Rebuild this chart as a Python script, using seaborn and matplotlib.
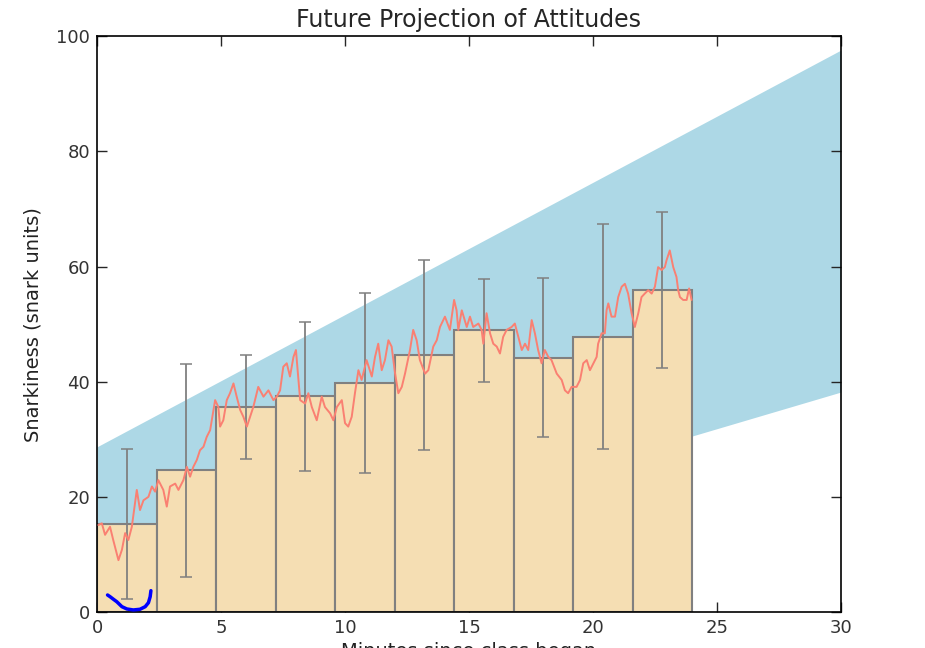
import numpy as np
import pandas as pd
import matplotlib
matplotlib.use("Agg")
import matplotlib.pyplot as plt
import seaborn as sns

# bars (10 bins of width 2.4 from 0 to 24)
bar_centers = [1.2, 3.6, 6.0, 8.4, 10.8, 13.2, 15.6, 18.0, 20.4, 22.8]
bar_heights = [15.3, 24.65, 35.6, 37.45, 39.8, 44.7, 48.9, 44.2, 47.85, 55.9]
bar_errors = [13.0, 18.5, 9.0, 12.9, 15.6, 16.5, 8.95, 13.75, 19.5, 13.5]

# projection band
band_x = [0, 30]
band_low = [0.0, 38.2]
band_high = [28.7, 97.6]

# snark trace
trace_x = [0.05, 0.19, 0.32, 0.52, 0.65, 0.86, 1.00, 1.13, 1.26, 1.40, 1.60, 1.73,
           1.87, 2.07, 2.21, 2.34, 2.47, 2.67, 2.81, 2.94, 3.15, 3.28, 3.48, 3.62,
           3.75, 3.88, 4.02, 4.15, 4.29, 4.42, 4.56, 4.76, 4.89, 4.96, 5.09, 5.23,
           5.36, 5.50, 5.63, 5.77, 5.90, 6.04, 6.30, 6.50, 6.71, 6.91, 7.11, 7.25,
           7.38, 7.51, 7.65, 7.78, 7.92, 8.02, 8.12, 8.19, 8.39, 8.52, 8.66, 8.86,
           9.06, 9.19, 9.40, 9.53, 9.67, 9.87, 10.00, 10.13, 10.27, 10.40, 10.54, 10.67,
           10.87, 11.08, 11.21, 11.34, 11.48, 11.61, 11.75, 11.88, 12.02, 12.15, 12.29, 12.42,
           12.62, 12.75, 12.89, 13.02, 13.23, 13.36, 13.56, 13.70, 13.83, 14.03, 14.23, 14.40,
           14.50, 14.57, 14.71, 14.91, 15.04, 15.17, 15.38, 15.51, 15.58, 15.71, 15.85, 15.98,
           16.12, 16.25, 16.38, 16.52, 16.72, 16.85, 16.99, 17.13, 17.26, 17.39, 17.53, 17.66,
           17.79, 17.93, 18.06, 18.20, 18.33, 18.54, 18.74, 18.87, 19.00, 19.14, 19.34, 19.48,
           19.61, 19.75, 19.88, 20.02, 20.15, 20.21, 20.35, 20.48, 20.55, 20.62, 20.75, 20.89,
           21.02, 21.16, 21.29, 21.42, 21.56, 21.69, 21.83, 21.96, 22.09, 22.23, 22.37, 22.50,
           22.63, 22.77, 22.90, 22.97, 23.10, 23.24, 23.37, 23.44, 23.51, 23.64, 23.78, 23.88,
           23.98]
trace_y = [15.1, 15.4, 13.4, 14.8, 12.5, 9.0, 10.8, 13.7, 12.5, 14.8, 21.2, 17.7,
           19.4, 20.0, 21.8, 20.9, 22.9, 21.2, 18.3, 21.8, 22.3, 21.2, 22.9, 25.2,
           23.5, 25.2, 26.4, 28.1, 28.7, 30.4, 31.6, 36.8, 35.6, 32.2, 33.3, 36.8,
           38.0, 39.7, 37.4, 35.1, 33.9, 32.2, 35.6, 39.1, 37.4, 38.5, 36.8, 37.4,
           38.5, 42.6, 43.2, 40.9, 44.3, 45.5, 40.3, 36.8, 36.2, 38.0, 35.6, 33.3,
           37.4, 35.6, 34.5, 33.3, 35.6, 36.8, 32.8, 32.2, 33.9, 38.0, 42.0, 40.3,
           43.75, 40.9, 44.3, 46.6, 42.0, 43.75, 47.2, 46.1, 41.4, 38.0, 39.1, 41.4,
           45.5, 49.0, 47.2, 43.75, 41.4, 42.0, 46.1, 47.2, 49.5, 51.3, 49.0, 54.2,
           52.4, 49.0, 52.4, 49.5, 51.3, 49.5, 50.1, 49.0, 46.6, 51.9, 48.4, 46.6,
           46.1, 44.9, 47.8, 49.0, 49.5, 50.1, 47.8, 45.5, 46.6, 45.5, 50.7, 48.4,
           45.5, 43.2, 45.5, 44.3, 43.75, 41.4, 40.3, 38.5, 38.0, 39.1, 39.1, 40.3,
           43.2, 43.75, 42.0, 43.2, 44.3, 46.6, 48.4, 48.4, 52.4, 53.6, 51.3, 51.3,
           54.7, 56.5, 57.0, 55.3, 51.9, 49.5, 51.9, 54.7, 55.3, 55.9, 55.3, 56.5,
           59.9, 59.4, 59.9, 61.1, 62.8, 59.9, 58.2, 55.9, 54.7, 54.2, 54.2, 56.2,
           54.2]

# blue doodle at the bottom left
doodle_x = [0.42, 0.52, 0.66, 0.79, 1.00, 1.20, 1.46, 1.73, 1.94, 2.07, 2.14, 2.17]
doodle_y = [2.95, 2.66, 2.2, 1.79, 0.92, 0.52, 0.35, 0.47, 0.92, 1.61, 2.66, 3.7]

sns.set_style("white")
plt.rcParams['font.family'] = ['DejaVu Sans']
plt.rcParams['xtick.direction'] = 'in'
plt.rcParams['ytick.direction'] = 'in'

fig, ax = plt.subplots(figsize=(9.25, 6.48), dpi=100)
fig.subplots_adjust(left=0.105, right=0.909, top=0.944, bottom=0.0556)

ax.fill_between(band_x, band_low, band_high, color="lightblue", lw=0, zorder=0)

bars = pd.DataFrame({"x": bar_centers, "h": bar_heights})
sns.barplot(data=bars, x="x", y="h", native_scale=True, width=1.0,
            color="wheat", saturation=1, edgecolor="gray", linewidth=1.5,
            errorbar=None, ax=ax, zorder=1)
ax.errorbar(bar_centers, bar_heights, yerr=bar_errors, fmt="none",
            ecolor="gray", elinewidth=1.3, capsize=4, capthick=1.1, zorder=2)

sns.lineplot(x=trace_x, y=trace_y, color="salmon", lw=1.4, ax=ax, zorder=3)
sns.lineplot(x=doodle_x, y=doodle_y, color="blue", lw=2.5, ax=ax, zorder=4)

ax.set_xlim(0, 30)
ax.set_ylim(0, 100)
ax.set_xticks([0, 5, 10, 15, 20, 25, 30])
ax.set_xticklabels(["0", "5", "10", "15", "20", "25", "30"])
ax.set_yticks([0, 20, 40, 60, 80, 100])
ax.tick_params(axis="both", which="both", top=True, right=True, bottom=True, left=True,
               length=7, width=1, labelsize=13, labelcolor="#333333", pad=5)
for s in ax.spines.values():
    s.set_color("black")
    s.set_linewidth(1.2)

ax.set_title("Future Projection of Attitudes", fontsize=17, pad=7)
ax.set_ylabel("Snarkiness (snark units)", fontsize=14, color="#222222", labelpad=10)
ax.set_xlabel("Minutes since class began", fontsize=14, color="#222222", labelpad=4)

fig.savefig("out.png", dpi=100)
